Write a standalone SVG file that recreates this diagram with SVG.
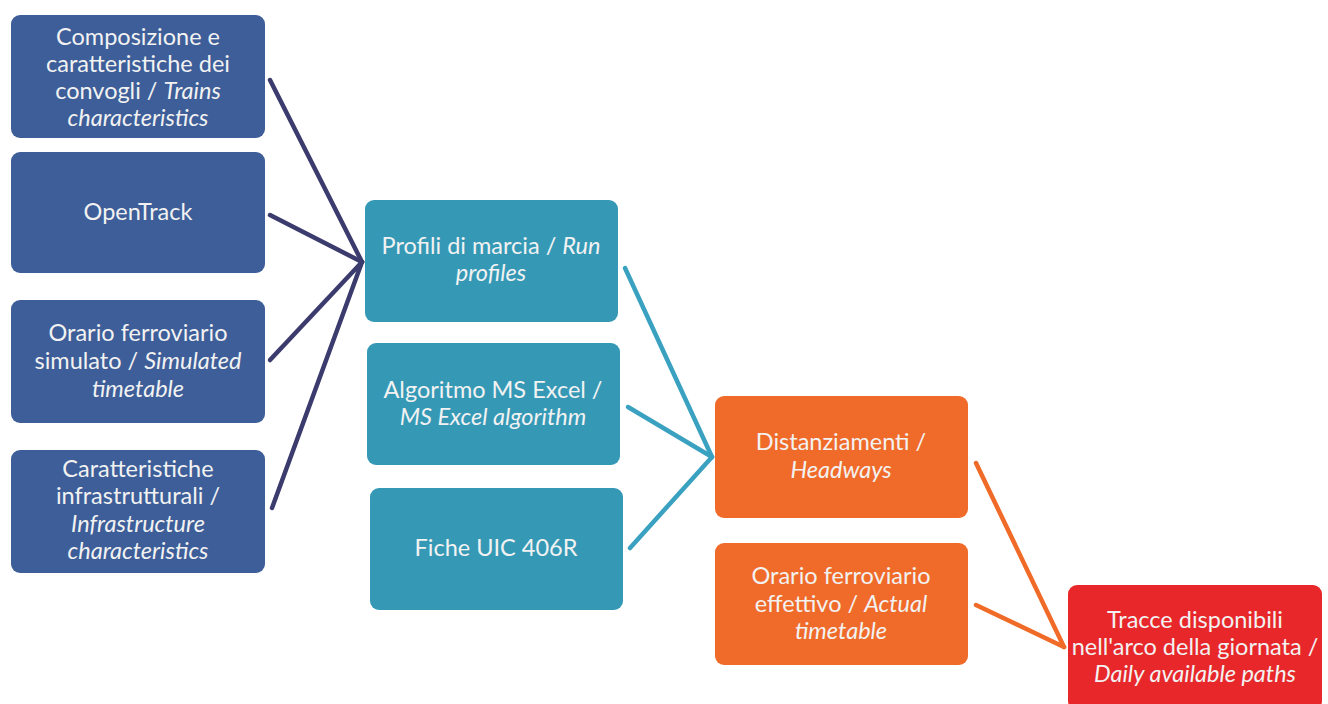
<svg xmlns="http://www.w3.org/2000/svg" width="1328" height="704" viewBox="0 0 1328 704">
  <style>
    .box { stroke: none; }
    .blue { fill: #3d5e98; }
    .teal { fill: #3599b6; }
    .orange { fill: #f06b2a; }
    .red { fill: #e8272a; }
    .lbl { font-family: Lato, "Open Sans", "Liberation Sans", sans-serif; font-size: 23.5px; fill: #f2f2f2; text-anchor: middle; }
    .it { font-style: italic; }
    .c-navy { stroke: #3b3b6d; stroke-width: 4.5; fill: none; stroke-linecap: round; }
    .c-teal { stroke: #3aa2c0; stroke-width: 4.5; fill: none; stroke-linecap: round; }
    .c-orange { stroke: #f06a28; stroke-width: 4.5; fill: none; stroke-linecap: round; }
  </style>
  <rect width="1328" height="704" fill="#ffffff"/>

  <!-- connectors -->
  <g id="connectors">
    <line class="c-navy" x1="270" y1="80" x2="362" y2="262"/>
    <line class="c-navy" x1="270" y1="215" x2="362" y2="262"/>
    <line class="c-navy" x1="270" y1="360" x2="362" y2="262"/>
    <line class="c-navy" x1="272" y1="508" x2="362" y2="262"/>
    <line class="c-teal" x1="625" y1="268" x2="712" y2="457"/>
    <line class="c-teal" x1="628" y1="407" x2="712" y2="457"/>
    <line class="c-teal" x1="630" y1="548" x2="712" y2="457"/>
    <line class="c-orange" x1="976" y1="463" x2="1064" y2="647"/>
    <line class="c-orange" x1="976" y1="605" x2="1064" y2="647"/>
  </g>

  <g id="n-composizione">
    <rect class="box blue" x="11" y="15" width="254" height="123" rx="9"/>
    <text class="lbl" x="138" y="45">Composizione e</text>
    <text class="lbl" x="138" y="72">caratteristiche dei</text>
    <text class="lbl" x="138" y="99">convogli / <tspan class="it">Trains</tspan></text>
    <text class="lbl it" x="138" y="126">characteristics</text>
  </g>

  <g id="n-opentrack">
    <rect class="box blue" x="11" y="152" width="254" height="121" rx="9"/>
    <text class="lbl" x="138" y="220">OpenTrack</text>
  </g>

  <g id="n-orario-simulato">
    <rect class="box blue" x="11" y="300" width="254" height="123" rx="9"/>
    <text class="lbl" x="138" y="341">Orario ferroviario</text>
    <text class="lbl" x="138" y="369">simulato / <tspan class="it">Simulated</tspan></text>
    <text class="lbl it" x="138" y="397">timetable</text>
  </g>

  <g id="n-infrastruttura">
    <rect class="box blue" x="11" y="450" width="254" height="123" rx="9"/>
    <text class="lbl" x="138" y="477">Caratteristiche</text>
    <text class="lbl" x="138" y="504">infrastrutturali /</text>
    <text class="lbl it" x="138" y="532">Infrastructure</text>
    <text class="lbl it" x="138" y="559">characteristics</text>
  </g>

  <g id="n-profili">
    <rect class="box teal" x="365" y="200" width="253" height="122" rx="9"/>
    <text class="lbl" x="491" y="254">Profili di marcia / <tspan class="it">Run</tspan></text>
    <text class="lbl it" x="491" y="281">profiles</text>
  </g>

  <g id="n-algoritmo">
    <rect class="box teal" x="367" y="343" width="253" height="122" rx="9"/>
    <text class="lbl" x="493" y="398">Algoritmo MS Excel /</text>
    <text class="lbl it" x="493" y="425">MS Excel algorithm</text>
  </g>

  <g id="n-fiche">
    <rect class="box teal" x="370" y="488" width="253" height="122" rx="9"/>
    <text class="lbl" x="496" y="556">Fiche UIC 406R</text>
  </g>

  <g id="n-distanziamenti">
    <rect class="box orange" x="715" y="396" width="253" height="122" rx="9"/>
    <text class="lbl" x="841" y="450">Distanziamenti /</text>
    <text class="lbl it" x="841" y="478">Headways</text>
  </g>

  <g id="n-orario-effettivo">
    <rect class="box orange" x="715" y="543" width="253" height="122" rx="9"/>
    <text class="lbl" x="841" y="584">Orario ferroviario</text>
    <text class="lbl" x="841" y="612">effettivo / <tspan class="it">Actual</tspan></text>
    <text class="lbl it" x="841" y="639">timetable</text>
  </g>

  <g id="n-tracce">
    <rect class="box red" x="1068" y="585" width="254" height="125" rx="9"/>
    <text class="lbl" x="1195" y="628">Tracce disponibili</text>
    <text class="lbl" x="1195" y="655">nell'arco della giornata /</text>
    <text class="lbl it" x="1195" y="682">Daily available paths</text>
  </g>
</svg>
